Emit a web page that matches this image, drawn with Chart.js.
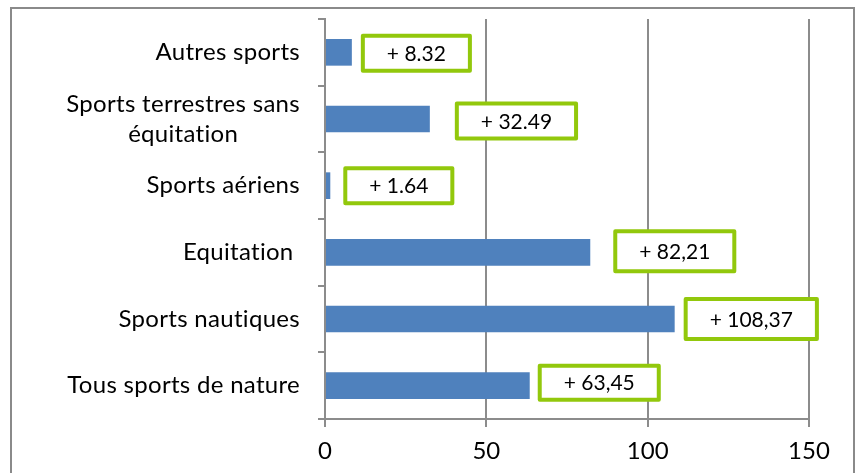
<!DOCTYPE html>
<html>
<head>
<meta charset="utf-8">
<script src="https://cdn.jsdelivr.net/npm/chart.js@4.4.0/dist/chart.umd.min.js"></script>
<style>
  html, body { margin: 0; padding: 0; background: #fff; }
</style>
</head>
<body>
<canvas id="chart" width="859" height="473"></canvas>
<script>
// données (du haut vers le bas)
const categories = [
  ['Autres sports'],
  ['Sports terrestres sans', 'équitation'],
  ['Sports aériens'],
  ['Equitation '],
  ['Sports nautiques'],
  ['Tous sports de nature']
];
const values = [8.32, 32.49, 1.64, 82.21, 108.37, 63.45];
const valueLabels = ['+ 8.32', '+ 32.49', '+ 1.64', '+ 82,21', '+ 108,37', '+ 63,45'];
const xTicks = [0, 50, 100, 150];

// placement des cadres verts (px, par rapport au bout de la barre)
const labelDx = [11, 27, 15, 25, 11, 10];
const labelDy = [1, 2, 0, -1, 0, -3];
const boxH = [35, 35, 35, 40, 40, 34];

const FONT = 'Lato, "Liberation Sans", sans-serif';
const GRAY = '#8c8c8c';
const GREEN = '#92c80c';

const ctx = document.getElementById('chart').getContext('2d');

// cadre gris autour du graphique
const framePlugin = {
  id: 'frame',
  beforeDraw(chart) {
    const c = chart.ctx;
    c.save();
    c.strokeStyle = '#8a8a8a';
    c.lineWidth = 2;
    c.beginPath();
    c.moveTo(11, 480);
    c.lineTo(11, 8);
    c.lineTo(854, 8);
    c.lineTo(854, 480);
    c.stroke();
    c.restore();
  }
};

// libellés des catégories (lignes centrées entre elles)
const catLabelsPlugin = {
  id: 'catLabels',
  afterDraw(chart) {
    const c = chart.ctx;
    const yScale = chart.scales.y;
    const right = yScale.right - 25;
    c.save();
    c.font = '24px ' + FONT;
    c.letterSpacing = '0.3px'; // évite la ligature "ti" de Lato
    c.fillStyle = '#000';
    c.textAlign = 'center';
    c.textBaseline = 'middle';
    categories.forEach((lines, i) => {
      const y = yScale.getPixelForValue(i);
      const w = Math.max(...lines.map(l => c.measureText(l).width));
      const cx = right - w / 2;
      const lh = 30;
      lines.forEach((l, k) => {
        c.fillText(l, cx, y + (k - (lines.length - 1) / 2) * lh);
      });
    });
    c.restore();
  }
};

// cadres verts avec la valeur
const boxLabelsPlugin = {
  id: 'boxLabels',
  afterDatasetsDraw(chart) {
    const c = chart.ctx;
    const meta = chart.getDatasetMeta(0);
    c.save();
    c.font = '21px ' + FONT;
    c.textAlign = 'center';
    c.textBaseline = 'middle';
    meta.data.forEach((bar, i) => {
      const txt = valueLabels[i];
      const w = c.measureText(txt).width + 48;
      const h = boxH[i];
      const x0 = bar.x + labelDx[i];
      const cy = bar.y + labelDy[i];
      c.fillStyle = '#fff';
      c.fillRect(x0, cy - h / 2, w, h);
      c.strokeStyle = GREEN;
      c.lineWidth = 4;
      c.lineJoin = 'round';
      c.strokeRect(x0, cy - h / 2, w, h);
      c.fillStyle = '#000';
      c.fillText(txt, x0 + w / 2, cy + 1);
    });
    c.restore();
  }
};

const chart = new Chart(ctx, {
  type: 'bar',
  data: {
    labels: categories,
    datasets: [{
      data: values,
      backgroundColor: '#4f81bd',
      borderWidth: 0,
      barPercentage: 0.4,
      categoryPercentage: 1
    }]
  },
  options: {
    indexAxis: 'y',
    responsive: false,
    animation: false,
    layout: { padding: { top: 19, right: 50, left: 0, bottom: 0 } },
    plugins: {
      legend: { display: false },
      tooltip: { enabled: false }
    },
    scales: {
      x: {
        min: xTicks[0],
        max: xTicks[xTicks.length - 1],
        afterBuildTicks: (scale) => { scale.ticks = xTicks.map(v => ({ value: v })); },
        afterFit: (scale) => { scale.height = 54; },
        grid: { color: GRAY, lineWidth: 2, tickLength: 8 },
        border: { display: true, color: GRAY, width: 2 },
        ticks: {
          color: '#000',
          padding: 10,
          font: { family: FONT, size: 24 }
        }
      },
      y: {
        afterFit: (scale) => { scale.width = 325; },
        grid: { color: GRAY, lineWidth: 2, tickLength: 7, drawOnChartArea: false, offset: true },
        border: { display: true, color: GRAY, width: 2 },
        ticks: { display: false }
      }
    }
  },
  plugins: [framePlugin, catLabelsPlugin, boxLabelsPlugin]
});
</script>
</body>
</html>
